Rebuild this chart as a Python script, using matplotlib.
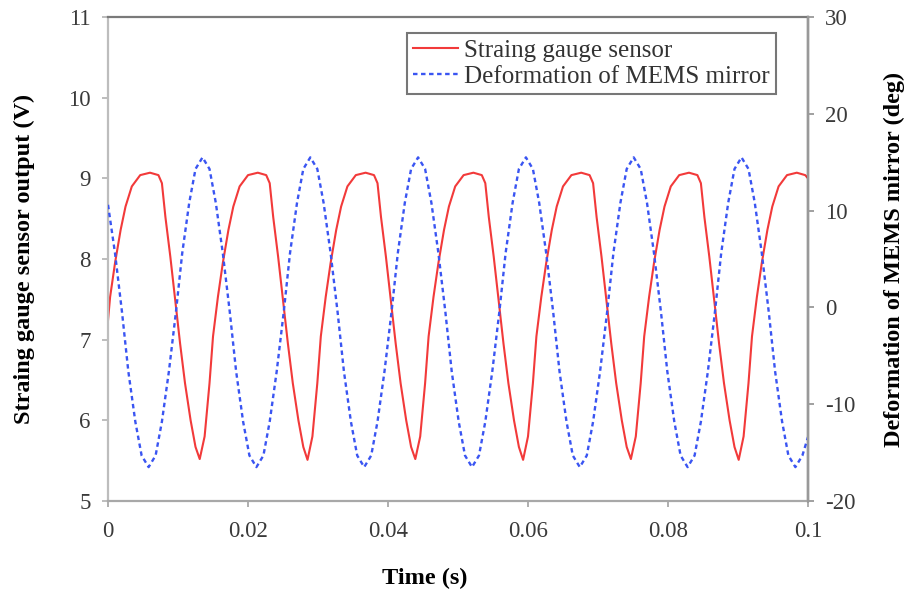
"""Strain gauge output vs. MEMS mirror deformation, dual y-axis."""

import matplotlib

matplotlib.use("Agg")

import matplotlib.pyplot as plt

# strain gauge sensor output (V)
t_gauge = [
    0.0000, 0.0003, 0.0010, 0.0018, 0.0025, 0.0034, 0.0046, 0.0060, 0.0072, 0.0077,
    0.0082, 0.0089, 0.0096, 0.0103, 0.0110, 0.0118, 0.0125, 0.0131,
    0.0138, 0.0145, 0.0150, 0.0157, 0.0164, 0.0172, 0.0179, 0.0188, 0.0200, 0.0214,
    0.0226, 0.0231, 0.0236, 0.0243, 0.0250, 0.0257, 0.0264, 0.0272, 0.0279, 0.0285,
    0.0292, 0.0299, 0.0304, 0.0311, 0.0318, 0.0326, 0.0333, 0.0342, 0.0354, 0.0368,
    0.0380, 0.0385, 0.0390, 0.0397, 0.0404, 0.0411, 0.0418, 0.0426, 0.0433, 0.0439,
    0.0446, 0.0453, 0.0458, 0.0465, 0.0472, 0.0480, 0.0487, 0.0496, 0.0508, 0.0522,
    0.0534, 0.0539, 0.0544, 0.0551, 0.0558, 0.0565, 0.0572, 0.0580, 0.0587, 0.0593,
    0.0600, 0.0607, 0.0612, 0.0619, 0.0626, 0.0634, 0.0641, 0.0650, 0.0662, 0.0676,
    0.0688, 0.0693, 0.0698, 0.0705, 0.0712, 0.0719, 0.0726, 0.0734, 0.0741, 0.0747,
    0.0754, 0.0761, 0.0766, 0.0773, 0.0780, 0.0788, 0.0795, 0.0804, 0.0816, 0.0830,
    0.0842, 0.0847, 0.0852, 0.0859, 0.0866, 0.0873, 0.0880, 0.0888, 0.0895, 0.0901,
    0.0908, 0.0915, 0.0920, 0.0927, 0.0934, 0.0942, 0.0949, 0.0958, 0.0970, 0.0984,
    0.0996, 0.1000,
]
v_gauge = [
    7.24, 7.53, 7.95, 8.36, 8.65, 8.90, 9.04, 9.07, 9.04, 8.94,
    8.52, 8.03, 7.49, 6.95, 6.46, 6.00, 5.67, 5.52,
    5.80, 6.46, 7.04, 7.53, 7.95, 8.36, 8.65, 8.90, 9.04, 9.07,
    9.04, 8.94, 8.52, 8.03, 7.49, 6.95, 6.46, 6.00, 5.67, 5.51,
    5.80, 6.46, 7.04, 7.53, 7.95, 8.36, 8.65, 8.90, 9.04, 9.07,
    9.04, 8.94, 8.52, 8.03, 7.49, 6.95, 6.46, 6.00, 5.67, 5.52,
    5.80, 6.46, 7.04, 7.53, 7.95, 8.36, 8.65, 8.90, 9.04, 9.07,
    9.04, 8.94, 8.52, 8.03, 7.49, 6.95, 6.46, 6.00, 5.67, 5.51,
    5.80, 6.46, 7.04, 7.53, 7.95, 8.36, 8.65, 8.90, 9.04, 9.07,
    9.04, 8.94, 8.52, 8.03, 7.49, 6.95, 6.46, 6.00, 5.67, 5.52,
    5.80, 6.46, 7.04, 7.53, 7.95, 8.36, 8.65, 8.90, 9.04, 9.07,
    9.04, 8.94, 8.52, 8.03, 7.49, 6.95, 6.46, 6.00, 5.67, 5.51,
    5.80, 6.46, 7.04, 7.53, 7.95, 8.36, 8.65, 8.90, 9.04, 9.07,
    9.04, 9.00,
]

# MEMS mirror deformation (deg)
t_mirror = [
    0.0000, 0.0010, 0.0020, 0.0029, 0.0039, 0.0048, 0.0058, 0.0068, 0.0077, 0.0087,
    0.0097, 0.0106, 0.0116, 0.0125, 0.0135,
    0.0145, 0.0154, 0.0164, 0.0174, 0.0183, 0.0193, 0.0202, 0.0212,
    0.0222, 0.0231, 0.0241, 0.0251, 0.0260, 0.0270, 0.0279, 0.0289,
    0.0299, 0.0308, 0.0318, 0.0328, 0.0337, 0.0347, 0.0356, 0.0366,
    0.0376, 0.0385, 0.0395, 0.0405, 0.0414, 0.0424, 0.0433, 0.0443,
    0.0453, 0.0462, 0.0472, 0.0482, 0.0491, 0.0501, 0.0510, 0.0520,
    0.0530, 0.0539, 0.0549, 0.0559, 0.0568, 0.0578, 0.0587, 0.0597,
    0.0607, 0.0616, 0.0626, 0.0636, 0.0645, 0.0655, 0.0664, 0.0674,
    0.0684, 0.0693, 0.0703, 0.0713, 0.0722, 0.0732, 0.0741, 0.0751,
    0.0761, 0.0770, 0.0780, 0.0790, 0.0799, 0.0809, 0.0818, 0.0828,
    0.0838, 0.0847, 0.0857, 0.0867, 0.0876, 0.0886, 0.0895, 0.0905,
    0.0915, 0.0924, 0.0934, 0.0944, 0.0953, 0.0963, 0.0972, 0.0982,
    0.0992, 0.1000,
]
d_mirror = [
    10.6, 5.6, -0.5, -6.6, -11.8, -15.3, -16.5, -15.3, -11.8, -6.6,
    -0.5, 5.6, 10.8, 14.3, 15.5,
    14.3, 10.8, 5.6, -0.5, -6.6, -11.8, -15.3, -16.5,
    -15.3, -11.8, -6.6, -0.5, 5.6, 10.8, 14.3, 15.5,
    14.3, 10.8, 5.6, -0.5, -6.6, -11.8, -15.3, -16.5,
    -15.3, -11.8, -6.6, -0.5, 5.6, 10.8, 14.3, 15.5,
    14.3, 10.8, 5.6, -0.5, -6.6, -11.8, -15.3, -16.5,
    -15.3, -11.8, -6.6, -0.5, 5.6, 10.8, 14.3, 15.5,
    14.3, 10.8, 5.6, -0.5, -6.6, -11.8, -15.3, -16.5,
    -15.3, -11.8, -6.6, -0.5, 5.6, 10.8, 14.3, 15.5,
    14.3, 10.8, 5.6, -0.5, -6.6, -11.8, -15.3, -16.5,
    -15.3, -11.8, -6.6, -0.5, 5.6, 10.8, 14.3, 15.5,
    14.3, 10.8, 5.6, -0.5, -6.6, -11.8, -15.3, -16.5,
    -15.3, -13.4,
]

x_ticks = [0, 0.02, 0.04, 0.06, 0.08, 0.1]
x_labels = ["0", "0.02", "0.04", "0.06", "0.08", "0.1"]
left_ticks = [5, 6, 7, 8, 9, 10, 11]
right_ticks = [-20, -10, 0, 10, 20, 30]

plt.rcParams["font.family"] = ["Liberation Serif", "DejaVu Serif"]
plt.rcParams["axes.unicode_minus"] = False

fig = plt.figure(figsize=(9.1, 5.95), dpi=100)
ax = fig.add_axes([0.1187, 0.158, 0.7692, 0.8134])
ax2 = ax.twinx()

(l1,) = ax.plot(t_gauge, v_gauge, color="#f23a3a", linewidth=1.5,
                label="Straing gauge sensor")
(l2,) = ax2.plot(t_mirror, d_mirror, color="#3a55f2", linewidth=1.7,
                 linestyle=(0, (1.9, 1.5)), label="Deformation of MEMS mirror")

ax.set_xlim(0, 0.1)
ax.set_ylim(5, 11)
ax2.set_ylim(-20, 30)
ax.set_xticks(x_ticks)
ax.set_xticklabels(x_labels)
ax.set_yticks(left_ticks)
ax2.set_yticks(right_ticks)

tick_kw = dict(direction="out", length=4.5, width=1.3, labelsize=16.5,
               labelcolor="#3a3a3a")
ax.tick_params(axis="x", color="#a8a8a8", pad=10, **tick_kw)
ax.tick_params(axis="y", color="#b8b8b8", pad=8, **tick_kw)
ax2.tick_params(axis="y", color="#999999", pad=8, **tick_kw)

ax.spines["left"].set_color("#bdbdbd")
ax.spines["bottom"].set_color("#a8a8a8")
ax.spines["top"].set_color("#7a7a7a")
ax2.spines["right"].set_color("#999999")
for sp in ax.spines.values():
    sp.set_linewidth(1.6)
for sp in ax2.spines.values():
    sp.set_linewidth(1.6)
ax2.spines["left"].set_visible(False)
ax2.spines["bottom"].set_visible(False)
ax2.spines["top"].set_visible(False)

ax.set_xlabel("Time (s)", fontsize=17.5, fontweight="bold", va="center")
ax.xaxis.set_label_coords(0.452, -0.16)
ax.set_ylabel("Straing gauge sensor output (V)", fontsize=17.5,
              fontweight="bold", va="center")
ax.yaxis.set_label_coords(-0.119, 0.5)
ax2.set_ylabel("Deformation of MEMS mirror (deg)", fontsize=17.5,
               fontweight="bold", va="center", rotation=90)
ax2.yaxis.set_label_coords(1.124, 0.5)

leg = ax2.legend(handles=[l1, l2], loc="upper right",
                 bbox_to_anchor=(0.8527, 0.9445), bbox_transform=fig.transFigure,
                 fontsize=18, frameon=True, fancybox=False, borderaxespad=0,
                 borderpad=0.25, labelspacing=0.15, handlelength=1.8,
                 handletextpad=0.25)
leg.get_frame().set_edgecolor("#555555")
leg.get_frame().set_linewidth(1.5)
for txt in leg.get_texts():
    txt.set_color("#333333")

fig.savefig("out.png", dpi=100)
plt.close(fig)
